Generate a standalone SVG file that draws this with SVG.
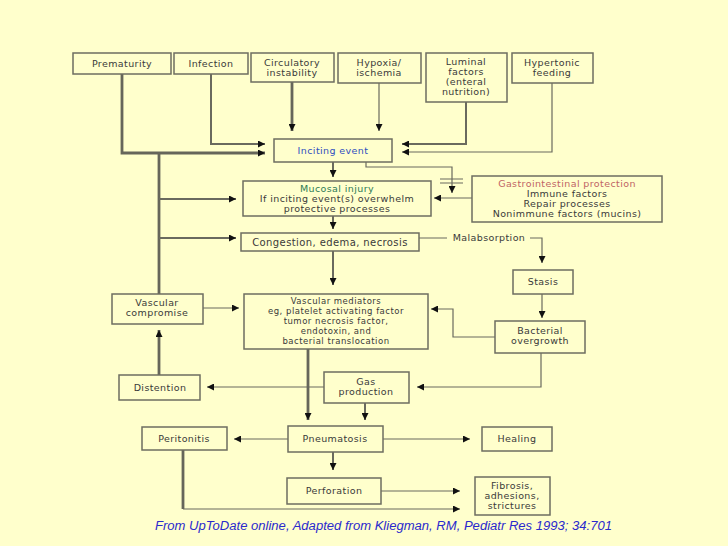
<svg xmlns="http://www.w3.org/2000/svg" width="728" height="546" viewBox="0 0 728 546">
<defs>
<style>
.bg{fill:#FFFFCC}
.box{fill:#FFFFCC;stroke:#6e6e60;stroke-width:1.5}
.t{font-family:"DejaVu Sans","Liberation Sans",sans-serif;font-size:9.5px;fill:#3a3a3a;text-anchor:middle;letter-spacing:0.4px}
.s{font-size:8.5px;letter-spacing:0.5px}
.c{fill:none;stroke:#6a6a5e;stroke-width:1.2}
.c2{fill:none;stroke:#6a6a5e;stroke-width:2}
.c3{fill:none;stroke:#66665a;stroke-width:2.8}
.cap{font-family:"Liberation Sans","DejaVu Sans",sans-serif;font-size:12.5px;font-style:italic;fill:#2a2acc}
</style>
<marker id="ah" viewBox="0 0 10 10" refX="10" refY="5" markerWidth="10" markerHeight="7" markerUnits="userSpaceOnUse" orient="auto">
<path d="M0,0 L10,5 L0,10 z" fill="#111"/>
</marker>
</defs>
<rect class="bg" x="0" y="0" width="728" height="546"/>

<g id="connectors">
<path class="c3" d="M122,74 V153 H265" marker-end="url(#ah)"/>
<path class="c2" d="M211,74 V144 H265" marker-end="url(#ah)"/>
<path class="c3" d="M292,82 V131" marker-end="url(#ah)"/>
<path class="c" d="M379,83 V131" marker-end="url(#ah)"/>
<path class="c2" d="M466,102 V144 H402" marker-end="url(#ah)"/>
<path class="c" d="M552,83 V152 H402" marker-end="url(#ah)"/>
<path class="c3" d="M159,294 V153"/>
<path class="c2" d="M159,199 H236" marker-end="url(#ah)"/>
<path class="c2" d="M159,238 H236" marker-end="url(#ah)"/>
<path class="c2" d="M333,162 V177" marker-end="url(#ah)"/>
<path class="c" d="M366,162 V167 H452 V193" marker-end="url(#ah)"/>
<path class="c" d="M440,179 H463 M440,183 H463"/>
<path class="c" d="M472,198 H434" marker-end="url(#ah)"/>
<path class="c2" d="M333,216 V229" marker-end="url(#ah)"/>
<path class="c" d="M419,238 H447 M530,238 H542 V263" marker-end="url(#ah)"/>
<path class="c" d="M542,294 V318" marker-end="url(#ah)"/>
<path class="c" d="M495,337 H453 V309 H431" marker-end="url(#ah)"/>
<path class="c2" d="M333,251 V285" marker-end="url(#ah)"/>
<path class="c" d="M203,308 H239" marker-end="url(#ah)"/>
<path class="c3" d="M159,375 V330" marker-end="url(#ah)"/>
<path class="c" d="M324,387 H207" marker-end="url(#ah)"/>
<path class="c" d="M541,353 V387 H417" marker-end="url(#ah)"/>
<path class="c3" d="M308,349 V420" marker-end="url(#ah)"/>
<path class="c2" d="M365,403 V420" marker-end="url(#ah)"/>
<path class="c" d="M288,439 H234" marker-end="url(#ah)"/>
<path class="c" d="M383,439 H470" marker-end="url(#ah)"/>
<path class="c2" d="M333,452 V470" marker-end="url(#ah)"/>
<path class="c" d="M381,491 H460" marker-end="url(#ah)"/>
<path class="c3" d="M183,450 V509"/>
<path class="c" d="M183,509 H460" marker-end="url(#ah)"/>
<text class="t" x="489" y="241">Malabsorption</text>
</g>

<g id="prematurity"><rect class="box" x="73" y="53" width="98" height="21"/><text class="t" x="122" y="67">Prematurity</text></g>
<g id="infection"><rect class="box" x="174" y="53" width="74" height="21"/><text class="t" x="211" y="67">Infection</text></g>
<g id="circulatory"><rect class="box" x="251" y="53" width="83" height="29"/><text class="t" x="292" y="66">Circulatory</text><text class="t" x="292" y="76">instability</text></g>
<g id="hypoxia"><rect class="box" x="338" y="53" width="83" height="30"/><text class="t" x="379" y="66">Hypoxia/</text><text class="t" x="379" y="76">ischemia</text></g>
<g id="luminal"><rect class="box" x="426" y="53" width="81" height="49"/><text class="t" x="466" y="65">Luminal</text><text class="t" x="466" y="75">factors</text><text class="t" x="466" y="85">(enteral</text><text class="t" x="466" y="95">nutrition)</text></g>
<g id="hypertonic"><rect class="box" x="512" y="53" width="81" height="30"/><text class="t" x="552" y="66">Hypertonic</text><text class="t" x="552" y="76">feeding</text></g>

<g id="inciting"><rect class="box" x="274" y="139" width="118" height="23"/><text class="t" x="333" y="154" style="fill:#2f4fc0">Inciting event</text></g>
<g id="mucosal"><rect class="box" x="243" y="181" width="188" height="35"/><text class="t" x="337" y="192" style="fill:#2e7a55">Mucosal injury</text><text class="t" x="337" y="202">If inciting event(s) overwhelm</text><text class="t" x="337" y="212">protective processes</text></g>
<g id="gi"><rect class="box" x="472" y="176" width="190" height="46"/><text class="t" x="567" y="187" style="fill:#c06464">Gastrointestinal protection</text><text class="t" x="567" y="197">Immune factors</text><text class="t" x="567" y="207">Repair processes</text><text class="t" x="567" y="217">Nonimmune factors (mucins)</text></g>
<g id="congestion"><rect class="box" x="241" y="233" width="178" height="18"/><text class="t" x="330" y="246" style="font-size:10px">Congestion, edema, necrosis</text></g>
<g id="stasis"><rect class="box" x="513" y="270" width="60" height="24"/><text class="t" x="543" y="285">Stasis</text></g>
<g id="vascular-compromise"><rect class="box" x="112" y="294" width="91" height="30"/><text class="t" x="157" y="306">Vascular</text><text class="t" x="157" y="316">compromise</text></g>
<g id="vascular-mediators"><rect class="box" x="244" y="294" width="184" height="55"/><text class="t s" x="336" y="304">Vascular mediators</text><text class="t s" x="336" y="314">eg, platelet activating factor</text><text class="t s" x="336" y="324">tumor necrosis factor,</text><text class="t s" x="336" y="334">endotoxin, and</text><text class="t s" x="336" y="344">bacterial translocation</text></g>
<g id="bacterial"><rect class="box" x="495" y="321" width="90" height="32"/><text class="t" x="540" y="334">Bacterial</text><text class="t" x="540" y="344">overgrowth</text></g>
<g id="distention"><rect class="box" x="119" y="375" width="81" height="25"/><text class="t" x="160" y="391">Distention</text></g>
<g id="gas"><rect class="box" x="324" y="372" width="85" height="31"/><text class="t" x="366" y="385">Gas</text><text class="t" x="366" y="395">production</text></g>
<g id="peritonitis"><rect class="box" x="142" y="427" width="85" height="23"/><text class="t" x="184" y="442">Peritonitis</text></g>
<g id="pneumatosis"><rect class="box" x="288" y="426" width="95" height="26"/><text class="t" x="335" y="442">Pneumatosis</text></g>
<g id="healing"><rect class="box" x="482" y="427" width="70" height="24"/><text class="t" x="517" y="442">Healing</text></g>
<g id="perforation"><rect class="box" x="287" y="478" width="94" height="26"/><text class="t" x="334" y="494">Perforation</text></g>
<g id="fibrosis"><rect class="box" x="475" y="477" width="75" height="38"/><text class="t" x="512" y="489">Fibrosis,</text><text class="t" x="512" y="499">adhesions,</text><text class="t" x="512" y="509">strictures</text></g>

<text class="cap" x="155" y="530" textLength="457" lengthAdjust="spacingAndGlyphs">From UpToDate online, Adapted from Kliegman, RM, Pediatr Res 1993; 34:701</text>
</svg>
